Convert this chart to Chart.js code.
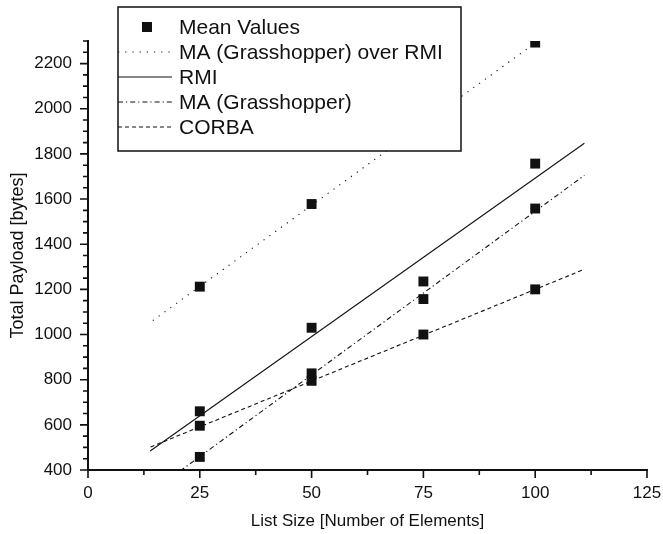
<!DOCTYPE html>
<html>
<head>
<meta charset="utf-8">
<script src="https://cdn.jsdelivr.net/npm/chart.js@4.4.1/dist/chart.umd.min.js"></script>
<style>
  html, body { margin: 0; padding: 0; background: #fff; }
  #wrap { width: 663px; height: 534px; }
</style>
</head>
<body>
<div id="wrap"><canvas id="chart" width="663" height="534"></canvas></div>
<script>
// ========== DATA ==========
const meanX = [25, 25, 25, 25, 50, 50, 50, 50, 75, 75, 75, 100, 100, 100, 100];
const meanY = [1212, 660, 596, 458, 1578, 1030, 828, 795, 1235, 1157, 1000, 2293, 1757, 1558, 1200];

// fitted lines, endpoints
const maRmiX = [14.5, 100.6];
const maRmiY = [1062, 2300];
const rmiX = [13.9, 111];
const rmiY = [484, 1847];
const maX = [14, 111];
const maY = [300, 1705];
const corbaX = [14, 110.5];
const corbaY = [502, 1285];

const legendLabels = ['Mean Values', 'MA (Grasshopper) over RMI', 'RMI', 'MA (Grasshopper)', 'CORBA'];
const xTicks = [0, 25, 50, 75, 100, 125];
const yTicks = [400, 600, 800, 1000, 1200, 1400, 1600, 1800, 2000, 2200];

const FONT = 'Arial, "Liberation Sans", Helvetica, sans-serif';
const INK = '#111';

const toPts = (xs, ys) => xs.map((x, i) => ({ x, y: ys[i] }));

const dashes = {
    maRmi: [1.2, 6],
    rmi: [],
    ma: [5, 3, 1.2, 3],
    corba: [4, 3]
};

function lineSet(label, xs, ys, dash) {
    return {
        label,
        data: toPts(xs, ys),
        showLine: true,
        borderColor: INK,
        borderWidth: 1.1,
        borderDash: dash,
        pointRadius: 0,
        fill: false
    };
}

// ========== PLUGINS ==========
// ticks: long at labelled values, short in between
const tickMarks = {
    id: 'tickMarks',
    afterDraw(chart) {
        const ctx = chart.ctx;
        const xs = chart.scales.x, ys = chart.scales.y;
        ctx.save();
        ctx.strokeStyle = INK;
        ctx.lineWidth = 1.6;
        ctx.beginPath();
        xs.ticks.forEach(t => {
            const px = xs.getPixelForValue(t.value);
            const len = xTicks.includes(t.value) ? 8 : 5;
            ctx.moveTo(px, xs.top);
            ctx.lineTo(px, xs.top + len);
        });
        ys.ticks.forEach(t => {
            const py = ys.getPixelForValue(t.value);
            const len = yTicks.includes(t.value) ? 8 : 5;
            ctx.moveTo(ys.right, py);
            ctx.lineTo(ys.right - len, py);
        });
        ctx.stroke();
        ctx.restore();
    }
};

// legend box drawn over the plot, as in the original
const boxLegend = {
    id: 'boxLegend',
    afterDraw(chart) {
        const ctx = chart.ctx;
        const left = 118, top = 7, right = 461, bottom = 151;
        ctx.save();
        ctx.fillStyle = '#fff';
        ctx.fillRect(left, top, right - left, bottom - top);
        ctx.strokeStyle = INK;
        ctx.lineWidth = 1.5;
        ctx.strokeRect(left, top, right - left, bottom - top);

        const rows = [27, 52, 77, 102, 127];
        const styles = [null, dashes.maRmi, dashes.rmi, dashes.ma, dashes.corba];
        ctx.font = '21px ' + FONT;
        ctx.textBaseline = 'middle';
        ctx.textAlign = 'left';
        rows.forEach((y, i) => {
            if (i === 0) {
                ctx.fillStyle = INK;
                ctx.fillRect(147 - 5, y - 5, 10, 10);
            } else {
                ctx.beginPath();
                ctx.setLineDash(styles[i]);
                ctx.lineWidth = 1.1;
                ctx.moveTo(left, y);
                ctx.lineTo(172, y);
                ctx.stroke();
                ctx.setLineDash([]);
            }
            ctx.fillStyle = INK;
            ctx.fillText(legendLabels[i], 179, y + 1);
        });
        ctx.restore();
    }
};

// ========== CHART ==========
const ctx = document.getElementById('chart').getContext('2d');
new Chart(ctx, {
    type: 'scatter',
    data: {
        datasets: [
            lineSet(legendLabels[1], maRmiX, maRmiY, dashes.maRmi),
            lineSet(legendLabels[2], rmiX, rmiY, dashes.rmi),
            lineSet(legendLabels[3], maX, maY, dashes.ma),
            lineSet(legendLabels[4], corbaX, corbaY, dashes.corba),
            {
                label: legendLabels[0],
                data: toPts(meanX, meanY),
                pointStyle: 'rect',
                pointRadius: 7,
                pointBackgroundColor: INK,
                pointBorderColor: INK,
                pointBorderWidth: 0,
                showLine: false
            }
        ]
    },
    options: {
        responsive: false,
        animation: false,
        events: [],
        layout: { padding: { left: 0, right: 16, top: 41, bottom: 0 } },
        plugins: {
            legend: { display: false },
            tooltip: { enabled: false }
        },
        scales: {
            x: {
                type: 'linear',
                min: 0,
                max: 125,
                afterFit: s => { s.height = 64; s.paddingLeft = 0; s.paddingRight = 0; },
                border: { display: true, color: INK, width: 2 },
                grid: { display: false, drawTicks: false },
                ticks: {
                    stepSize: 12.5,
                    autoSkip: false,
                    maxRotation: 0,
                    padding: 13,
                    color: INK,
                    font: { family: FONT, size: 17 },
                    callback: v => xTicks.includes(v) ? String(v) : ''
                },
                title: {
                    display: true,
                    text: 'List Size [Number of Elements]',
                    color: INK,
                    font: { family: FONT, size: 17 },
                    padding: { top: 0, bottom: 2 }
                }
            },
            y: {
                type: 'linear',
                min: 400,
                max: 2300,
                afterFit: s => { s.width = 88; },
                border: { display: true, color: INK, width: 2 },
                grid: { display: false, drawTicks: false },
                ticks: {
                    stepSize: 50,
                    autoSkip: false,
                    padding: 16,
                    color: INK,
                    font: { family: FONT, size: 17 },
                    callback: v => yTicks.includes(v) ? String(v) : ''
                },
                title: {
                    display: true,
                    text: 'Total Payload [bytes]',
                    color: INK,
                    font: { family: FONT, size: 18 },
                    padding: { top: 7, bottom: 0 }
                }
            }
        }
    },
    plugins: [tickMarks, boxLegend]
});
</script>
</body>
</html>
